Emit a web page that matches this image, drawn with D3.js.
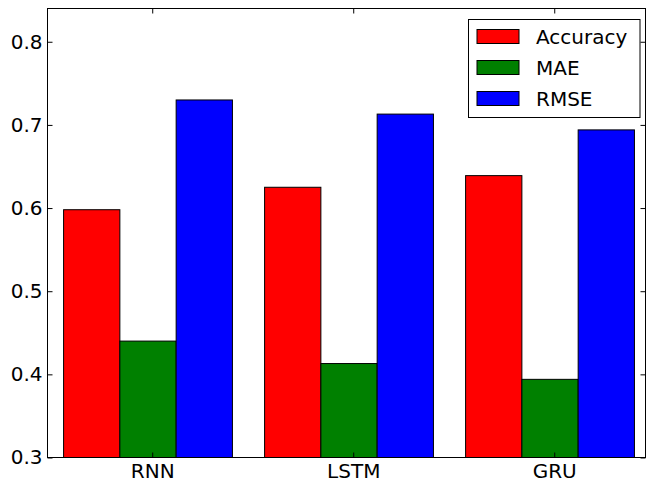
<!DOCTYPE html>
<html>
<head>
<meta charset="utf-8">
<script src="https://cdn.jsdelivr.net/npm/d3@7"></script>
<style>
  body { margin: 0; background: #fff; }
  text { font-family: "DejaVu Sans", sans-serif; }
</style>
</head>
<body>
<svg width="646" height="483"></svg>
<script>
// data
const models = ["RNN", "LSTM", "GRU"];
const metrics = ["Accuracy", "MAE", "RMSE"];
const colors = ["#ff0000", "#008000", "#0000ff"];
const accuracy = [0.598, 0.625, 0.639];
const mae = [0.440, 0.413, 0.394];
const rmse = [0.730, 0.713, 0.694];
const yTicks = [0.3, 0.4, 0.5, 0.6, 0.7, 0.8];

const series = [accuracy, mae, rmse];
const svg = d3.select("svg");
const plotL = 47.5, plotR = 645.5, plotT = 8.5, plotB = 457.5;
const barW = 0.28;

// x in "group units" like matplotlib: group i, bars at i + k*barW
const x = d3.scaleLinear().domain([-0.08, 2.895]).range([plotL, plotR]);
const y = d3.scaleLinear().domain([0.3, 0.84]).range([plotB, plotT]);

// bars
series.forEach(function (vals, k) {
  svg.append("g")
    .selectAll("rect")
    .data(vals)
    .enter().append("rect")
    .attr("x", function (d, i) { return x(i + k * barW); })
    .attr("y", function (d) { return y(d); })
    .attr("width", x(barW) - x(0))
    .attr("height", function (d) { return y(0.3) - y(d); })
    .attr("fill", colors[k])
    .attr("stroke", "#000")
    .attr("stroke-width", 1);
});

// frame
svg.append("rect")
  .attr("x", plotL).attr("y", plotT)
  .attr("width", plotR - plotL).attr("height", plotB - plotT)
  .attr("fill", "none").attr("stroke", "#000").attr("stroke-width", 1);

// y ticks (inside, both sides)
const yAxis = d3.axisLeft(y).tickValues(yTicks).tickFormat(d3.format(".1f"))
  .tickSizeInner(-5).tickSizeOuter(0).tickPadding(5);
const gy = svg.append("g").attr("transform", "translate(" + plotL + ",0)").call(yAxis);
gy.select(".domain").remove();
gy.selectAll("text").attr("font-size", 20).attr("fill", "#000")
  .attr("font-family", "DejaVu Sans, sans-serif");
gy.selectAll("line").attr("stroke", "#000");

const gyr = svg.append("g").attr("transform", "translate(" + plotR + ",0)")
  .call(d3.axisRight(y).tickValues(yTicks).tickSizeInner(-5).tickSizeOuter(0).tickFormat(""));
gyr.select(".domain").remove();
gyr.selectAll("line").attr("stroke", "#000");

// x ticks
const tickPos = models.map(function (m, i) { return i + 0.441; });
const xAxis = d3.axisBottom(x).tickValues(tickPos)
  .tickFormat(function (d, i) { return models[i]; })
  .tickSizeInner(-5).tickSizeOuter(0);
const gx = svg.append("g").attr("transform", "translate(0," + plotB + ")").call(xAxis);
gx.select(".domain").remove();
gx.selectAll("text").attr("font-size", 20).attr("fill", "#000")
  .attr("font-family", "DejaVu Sans, sans-serif")
  .attr("y", 20.5).attr("dy", 0);
gx.selectAll("line").attr("stroke", "#000");

const gxt = svg.append("g").attr("transform", "translate(0," + plotT + ")")
  .call(d3.axisTop(x).tickValues(tickPos).tickSizeInner(-5).tickSizeOuter(0).tickFormat(""));
gxt.select(".domain").remove();
gxt.selectAll("line").attr("stroke", "#000");

// legend
const lg = svg.append("g");
lg.append("rect")
  .attr("x", 468.5).attr("y", 19.5).attr("width", 171.5).attr("height", 98)
  .attr("fill", "#fff").attr("stroke", "#000").attr("stroke-width", 1);
metrics.forEach(function (m, k) {
  const yy = 29.5 + k * 31;
  lg.append("rect")
    .attr("x", 477).attr("y", yy).attr("width", 42).attr("height", 14)
    .attr("fill", colors[k]).attr("stroke", "#000").attr("stroke-width", 1);
  lg.append("text")
    .attr("x", 536).attr("y", yy + 14)
    .attr("font-size", 20)
    .text(m);
});
</script>
</body>
</html>
